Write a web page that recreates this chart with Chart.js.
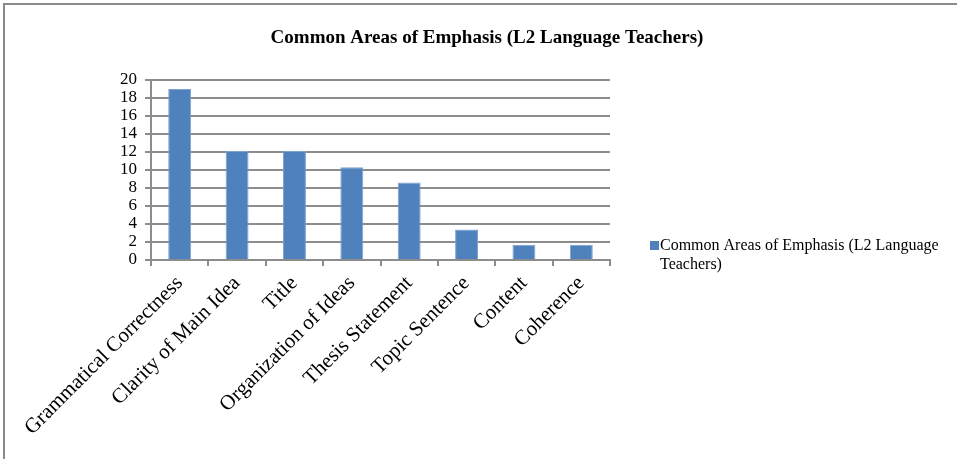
<!DOCTYPE html>
<html>
<head>
<meta charset="utf-8">
<script src="https://cdn.jsdelivr.net/npm/chart.js@4"></script>
<style>
    html, body { margin: 0; padding: 0; background: #fff; }
    #wrap { width: 957px; height: 459px; position: relative; }
</style>
</head>
<body>
<div id="wrap"><canvas id="emphasisChart"></canvas></div>
<script>
const categories = ['Grammatical Correctness', 'Clarity of Main Idea', 'Title', 'Organization of Ideas',
    'Thesis Statement', 'Topic Sentence', 'Content', 'Coherence'];
const emphasisValues = [19, 12.1, 12.1, 10.3, 8.6, 3.4, 1.7, 1.7];
const yTicks = [0, 2, 4, 6, 8, 10, 12, 14, 16, 18, 20];
const seriesName = 'Common Areas of Emphasis (L2 Language Teachers)';

const serif = '"Liberation Serif", "Times New Roman", serif';
const gridColor = '#8c8c8c';

// frame lines along the top and left edge
const framePlugin = {
    id: 'frame',
    beforeDraw(chart) {
        const c = chart.ctx;
        c.save();
        c.strokeStyle = '#8a8a8a';
        c.lineWidth = 2;
        c.beginPath();
        c.moveTo(4, 459);
        c.lineTo(4, 4);
        c.lineTo(957, 4);
        c.stroke();
        c.restore();
    }
};

// title centred over the whole canvas, legend on the right wrapped over two lines
const headerAndLegend = {
    id: 'headerAndLegend',
    afterDraw(chart) {
        const c = chart.ctx;
        const ds = chart.data.datasets[0];
        c.save();
        c.fillStyle = '#000';
        c.font = 'bold 19px ' + serif;
        c.textAlign = 'center';
        c.textBaseline = 'middle';
        c.fillText(ds.label, 487, 38);

        c.fillStyle = ds.backgroundColor;
        c.fillRect(650, 241, 9, 9);
        c.fillStyle = '#000';
        c.font = '16px ' + serif;
        c.textAlign = 'left';
        c.fillText('Common Areas of Emphasis (L2 Language', 660, 246);
        c.fillText('Teachers)', 660, 265);
        c.restore();
    }
};

const ctx = document.getElementById('emphasisChart').getContext('2d');
new Chart(ctx, {
    type: 'bar',
    data: {
        labels: categories,
        datasets: [{
            label: seriesName,
            data: emphasisValues,
            backgroundColor: '#4f81bd',
            borderColor: '#7ea3d0',
            borderWidth: 1,
            barPercentage: 0.4,
            categoryPercentage: 1
        }]
    },
    options: {
        responsive: true,
        maintainAspectRatio: false,
        animation: false,
        layout: {
            padding: { left: 0, right: 347, top: 80, bottom: 0 }
        },
        plugins: {
            legend: { display: false },
            tooltip: { enabled: false },
            title: { display: false }
        },
        scales: {
            x: {
                grid: {
                    display: true,
                    drawOnChartArea: false,
                    offset: true,
                    color: gridColor,
                    lineWidth: 2,
                    tickLength: 6
                },
                border: { color: gridColor, width: 2 },
                ticks: {
                    color: '#000',
                    font: { family: serif, size: 21 },
                    minRotation: 45,
                    maxRotation: 45,
                    autoSkip: false,
                    padding: 5
                },
                afterFit(scale) { scale.height = 199; }
            },
            y: {
                min: 0,
                max: 20,
                afterBuildTicks(scale) {
                    scale.ticks = yTicks.map(v => ({ value: v }));
                },
                grid: {
                    color: gridColor,
                    lineWidth: 2,
                    tickLength: 6
                },
                border: { color: gridColor, width: 2 },
                ticks: {
                    color: '#000',
                    font: { family: serif, size: 17 },
                    autoSkip: false,
                    padding: 8
                },
                afterFit(scale) { scale.width = 151; }
            }
        }
    },
    plugins: [framePlugin, headerAndLegend]
});
</script>
</body>
</html>
